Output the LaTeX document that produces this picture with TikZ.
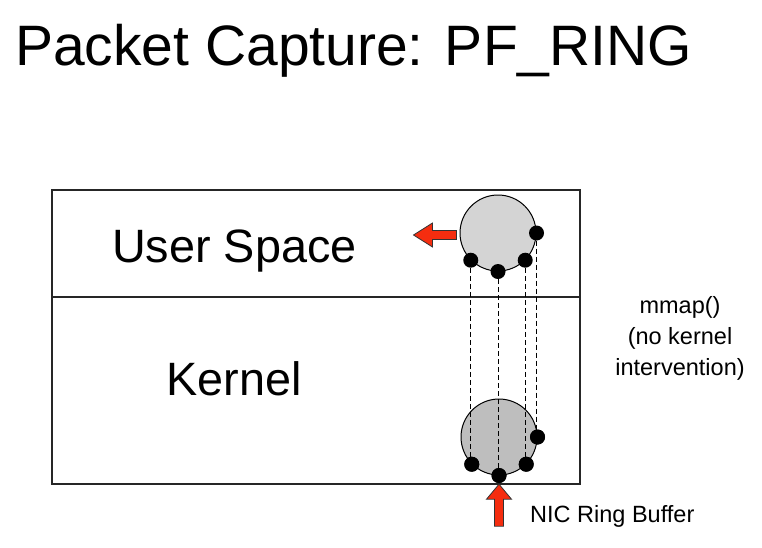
\documentclass[tikz,border=0pt]{standalone}
\usepackage{fontspec}
\setmainfont{Liberation Sans}
\usetikzlibrary{calc,positioning}

\definecolor{arrowred}{RGB}{245,45,15}
\definecolor{ringlight}{RGB}{212,212,212}
\definecolor{ringdark}{RGB}{190,190,190}

\tikzset{
  ring/.style={circle,draw=black,line width=1pt,minimum size=76pt,inner sep=0pt},
  slot/.style={circle,fill=black,minimum size=15pt,inner sep=0pt},
  mapline/.style={dashed,line width=0.9pt,dash pattern=on 5pt off 3pt},
  fatarrow/.style={fill=arrowred,draw=black!80,line width=0.8pt,line join=miter},
  spacebox/.style={draw=black!85,line width=1.2pt}
}

\begin{document}
\begin{tikzpicture}[x=1pt,y=-1pt]
\useasboundingbox (0,0) rectangle (762,547);

% title
\node[anchor=base west,inner sep=0pt,font=\fontsize{57}{64}\selectfont] (title) at (15,65) {Packet Capture: PF\_RING};

% user space and kernel
\draw[spacebox] (52,190) rectangle (580,297);
\draw[spacebox] (52,297) rectangle (580,484);
\node[anchor=base west,inner sep=0pt,font=\fontsize{46.8}{50}\selectfont] (user) at (112,262) {User Space};
\node[anchor=base west,inner sep=0pt,font=\fontsize{46.8}{50}\selectfont] (kernel) at (166,395) {Kernel};

% the two rings
\node[ring,fill=ringlight] (ringU) at (498,233) {};
\node[ring,fill=ringdark] (ringK) at (499,437) {};

% slots on each ring
\foreach \a/\n in {0/1,-45/2,-90/3,-135/4}{
  \node[slot] (u\n) at (ringU.\a) {};
  \node[slot] (k\n) at (ringK.\a) {};
}

% mmap lines
\foreach \n in {1,...,4}
  \draw[mapline] (u\n) -- (u\n |- k\n);
\foreach \n in {1,...,4}
  \node[slot] at (k\n) {};

% arrows
\draw[fatarrow] ($(ringU.west)+(-3,2)$) coordinate (outA)
  -- ++(0,-4.5) -- ++(-24,0) -- ++(0,-7.5) -- ++(-19,12) -- ++(19,12) -- ++(0,-7.5) -- ++(24,0) -- cycle;
\draw[fatarrow] ($(k3.south)+(0,1)$) coordinate (inA)
  -- ++(12.5,15) -- ++(-8,0) -- ++(0,27) -- ++(-9,0) -- ++(0,-27) -- ++(-8,0) -- cycle;

% labels
\node[align=center,font=\fontsize{23.5}{31}\selectfont] (mmap) at (680,338) {mmap()\\(no kernel\\intervention)};
\node[anchor=west,inner sep=0pt,font=\fontsize{23.5}{28}\selectfont] (nic) at (530,516) {NIC Ring Buffer};

\end{tikzpicture}
\end{document}
